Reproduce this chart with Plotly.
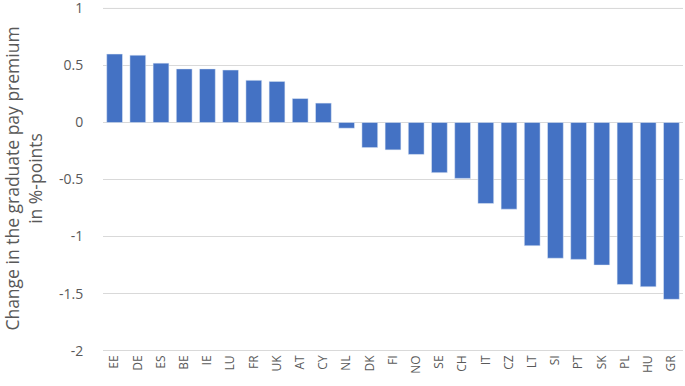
import plotly.graph_objects as go

countries = ["EE", "DE", "ES", "BE", "IE", "LU", "FR", "UK", "AT", "CY", "NL", "DK",
             "FI", "NO", "SE", "CH", "IT", "CZ", "LT", "SI", "PT", "SK", "PL", "HU", "GR"]
values = [0.60, 0.59, 0.52, 0.47, 0.47, 0.46, 0.37, 0.36, 0.21, 0.17, -0.05, -0.22,
          -0.24, -0.28, -0.44, -0.49, -0.71, -0.76, -1.08, -1.19, -1.20, -1.25, -1.42, -1.44, -1.55]
ytick_vals = [1, 0.5, 0, -0.5, -1, -1.5, -2]
ytick_text = ["1", "0.5", "0", "-0.5", "-1", "-1.5", "-2"]

fig = go.Figure(go.Bar(x=countries, y=values, marker_color="#4472C4", width=0.68))

fig.update_layout(
    width=685, height=386,
    margin=dict(l=103, r=2, t=5, b=34, autoexpand=False),
    paper_bgcolor="white", plot_bgcolor="white",
    font=dict(family="Open Sans", color="#595959"),
    showlegend=False,
)
fig.update_yaxes(
    range=[-2.012, 1.03], tickvals=ytick_vals, ticktext=ytick_text,
    automargin=False, ticklabeloverflow="allow",
    showgrid=True, gridcolor="#d9d9d9", gridwidth=1,
    zeroline=True, zerolinecolor="#d9d9d9", zerolinewidth=1,
    tickfont=dict(size=14, color="#595959"),
    ticks="outside", ticklen=0, ticklabelstandoff=16,
    title=dict(text="Change in the graduate pay premium<br>in %-points",
               font=dict(size=17.5, color="#595959"), standoff=12),
)
fig.update_xaxes(
    automargin=False,
    tickangle=-90, tickfont=dict(size=12, color="#595959"),
    showline=False, ticks="",
)
# top gridline (Plotly omits it at the range edge)
fig.add_hline(y=max(ytick_vals), line_color="#d9d9d9", line_width=1, layer="below")

fig.write_html("out.html", config={"displayModeBar": False},
               post_script="document.body.style.margin='0';document.body.style.overflow='hidden';")
